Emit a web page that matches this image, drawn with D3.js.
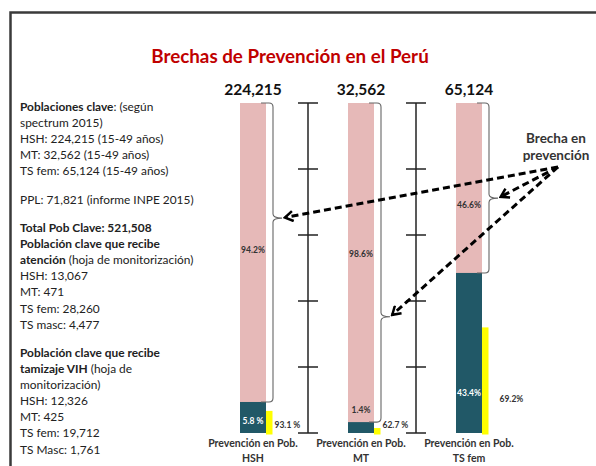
<!DOCTYPE html>
<html>
<head>
<meta charset="utf-8">
<script src="https://cdn.jsdelivr.net/npm/d3@7"></script>
<style>
  body { margin: 0; background: #fff; }
  svg { display: block; font-family: Lato, "Open Sans", sans-serif; }
</style>
</head>
<body>
<div id="chart"></div>
<script>
// Data
const categories = ["HSH", "MT", "TS fem"];
const catLabels = [["Prevención en Pob.", "HSH"], ["Prevención en Pob.", "MT"], ["Prevención en Pob.", "TS fem"]];
const population = ["224,215", "32,562", "65,124"];
// share of the bar (0-100) as drawn in the picture
const atencionShare = [9.4, 3.3, 48.5];
const tamizajeShare = [6.7, 1.5, 32];
const brechaLabels = ["94.2%", "98.6%", "46.6%"];
const atencionLabels = ["5.8 %", "1.4%", "43.4%"];
const tamizajeLabels = ["93.1 %", "62.7 %", "69.2%"];

const sideText = [
  [["Poblaciones clave", true], [": (según", false]],
  [["spectrum 2015)", false]],
  [["HSH: 224,215 (15-49 años)", false]],
  [["MT: 32,562 (15-49 años)", false]],
  [["TS fem: 65,124 (15-49 años)", false]],
  null,
  [["PPL: 71,821 (informe INPE 2015)", false]],
  null,
  [["Total Pob Clave: 521,508", true]],
  [["Población clave que recibe", true]],
  [["atención", true], [" (hoja de monitorización)", false]],
  [["HSH: 13,067", false]],
  [["MT: 471", false]],
  [["TS fem: 28,260", false]],
  [["TS masc: 4,477", false]],
  null,
  [["Población clave que recibe", true]],
  [["tamizaje VIH", true], [" (hoja de", false]],
  [["monitorización)", false]],
  [["HSH: 12,326", false]],
  [["MT: 425", false]],
  [["TS fem: 19,712", false]],
  [["TS Masc:  1,761", false]]
];

// Layout
const W = 596, H = 466;
const barW = 26, yellowW = 6.5;
const braceTip = [0.385, 0.67, 0.56];       // where the brace points, as part of the gap
const pinkLabelAt = [55.5, 54.2, 69];         // label heights in bar units
const tealLabelAt = [3.6, 7, 12.1];
const yellowLabelAt = [2.4, 2.4, 10.3];
const arrowFrom = [558, 167];

const svg = d3.select("#chart").append("svg")
    .attr("width", W)
    .attr("height", H);

// frame
svg.append("rect")
    .attr("x", 10.5).attr("y", 12.5)
    .attr("width", 620).attr("height", 480)
    .attr("fill", "none")
    .attr("stroke", "#3a3a3a")
    .attr("stroke-width", 2.5);

// title
svg.append("text")
    .attr("x", 290).attr("y", 63)
    .attr("text-anchor", "middle")
    .attr("fill", "#c00000")
    .attr("font-weight", "bold")
    .attr("font-size", 18.8)
    .text("Brechas de Prevención en el Perú");

// scales
const x = d3.scalePoint()
    .domain(categories)
    .range([253, 469]);

const y = d3.scaleLinear()
    .domain([0, 100])
    .range([433, 103]);

// pink (full population) bars
svg.selectAll(".pop")
    .data(categories)
    .enter().append("rect")
    .attr("x", d => x(d) - barW / 2)
    .attr("y", y(100))
    .attr("width", barW)
    .attr("height", y(0) - y(100))
    .attr("fill", "#e6b9b8");

// teal (atención) bars
svg.selectAll(".aten")
    .data(categories)
    .enter().append("rect")
    .attr("x", d => x(d) - barW / 2)
    .attr("y", (d, i) => y(atencionShare[i]))
    .attr("width", barW)
    .attr("height", (d, i) => y(0) - y(atencionShare[i]))
    .attr("fill", "#215867");

// yellow (tamizaje) bars
svg.selectAll(".tam")
    .data(categories)
    .enter().append("rect")
    .attr("x", d => x(d) + barW / 2)
    .attr("y", (d, i) => y(tamizajeShare[i]))
    .attr("width", yellowW)
    .attr("height", (d, i) => y(0) - y(tamizajeShare[i]) + 1.5)
    .attr("fill", "#ffff00");

// population totals on top
svg.selectAll(".popLabel")
    .data(categories)
    .enter().append("text")
    .attr("x", d => x(d))
    .attr("y", y(100) - 8)
    .attr("text-anchor", "middle")
    .attr("font-weight", "bold")
    .attr("font-size", 15.5)
    .attr("fill", "#111")
    .text((d, i) => population[i]);

// percentage labels
svg.selectAll(null)
    .data(categories)
    .enter().append("text")
    .attr("x", d => x(d))
    .attr("y", (d, i) => y(pinkLabelAt[i]))
    .attr("dy", "0.35em")
    .attr("text-anchor", "middle")
    .attr("font-weight", "bold")
    .attr("font-size", 8.5)
    .attr("fill", "#333")
    .text((d, i) => brechaLabels[i]);
svg.selectAll(null)
    .data(categories)
    .enter().append("text")
    .attr("x", d => x(d))
    .attr("y", (d, i) => y(tealLabelAt[i]))
    .attr("dy", "0.35em")
    .attr("text-anchor", "middle")
    .attr("font-weight", "bold")
    .attr("font-size", 8.5)
    .attr("fill", (d, i) => atencionShare[i] > 5 ? "#fff" : "#333")
    .text((d, i) => atencionLabels[i]);
svg.selectAll(null)
    .data(categories)
    .enter().append("text")
    .attr("x", (d, i) => x(d) + barW / 2 + yellowW + (tamizajeShare[i] > 20 ? 11 : 2))
    .attr("y", (d, i) => y(yellowLabelAt[i]))
    .attr("dy", "0.35em")
    .attr("font-weight", "bold")
    .attr("font-size", 8.5)
    .attr("fill", "#333")
    .text((d, i) => tamizajeLabels[i]);

// category labels
const cat = svg.selectAll(".cat")
    .data(categories)
    .enter().append("text")
    .attr("x", d => x(d))
    .attr("y", 447)
    .attr("text-anchor", "middle")
    .attr("font-weight", "bold")
    .attr("font-size", 10.5)
    .attr("fill", "#333");
cat.selectAll("tspan")
    .data((d, i) => catLabels[i])
    .enter().append("tspan")
    .attr("x", function () { return d3.select(this.parentNode).attr("x"); })
    .attr("dy", (d, j) => j ? 15 : 0)
    .text(d => d);

// scale rulers between bars
const rulerX = [(x(categories[0]) + x(categories[1])) / 2 + 1, (x(categories[1]) + x(categories[2])) / 2 + 1];
rulerX.forEach(rx => {
    const g = svg.append("g").attr("stroke", "#222").attr("stroke-width", 1.5);
    g.append("line")
        .attr("x1", rx).attr("x2", rx)
        .attr("y1", y(0)).attr("y2", y(100));
    g.selectAll("line.tick")
        .data(y.ticks(4))
        .enter().append("line")
        .attr("class", "tick")
        .attr("x1", rx - 10).attr("x2", rx + 10)
        .attr("y1", d => y(d)).attr("y2", d => y(d));
});

// braces marking the gap
const tips = [];
categories.forEach((d, i) => {
    const right = x(d) + barW / 2;
    const x0 = right - 5, xv = right + 7, r = 4, w = 9;
    const top = y(100), bot = y(atencionShare[i]);
    const tip = top + (bot - top) * braceTip[i];
    tips.push([xv + w, tip]);
    const p = d3.path();
    p.moveTo(x0, top);
    p.lineTo(xv - r, top);
    p.quadraticCurveTo(xv, top, xv, top + r);
    p.lineTo(xv, tip - r);
    p.quadraticCurveTo(xv, tip, xv + w, tip);
    p.quadraticCurveTo(xv, tip, xv, tip + r);
    p.lineTo(xv, bot - r);
    p.quadraticCurveTo(xv, bot, xv - r, bot);
    p.lineTo(x0, bot);
    svg.append("path")
        .attr("d", p.toString())
        .attr("fill", "none")
        .attr("stroke", "#666")
        .attr("stroke-width", 1.1);
});

// arrows
svg.append("defs").append("marker")
    .attr("id", "head")
    .attr("viewBox", "-10 -6 12 12")
    .attr("refX", 0).attr("refY", 0)
    .attr("markerWidth", 12).attr("markerHeight", 12)
    .attr("markerUnits", "userSpaceOnUse")
    .attr("orient", "auto")
    .append("path")
    .attr("d", "M-8,-5 L0,0 L-8,5")
    .attr("fill", "none")
    .attr("stroke", "#000")
    .attr("stroke-width", 2.5);

tips.forEach(t => {
    const ang = Math.atan2(t[1] - arrowFrom[1], t[0] - arrowFrom[0]);
    const ex = t[0] - 3 * Math.cos(ang), ey = t[1] - 3 * Math.sin(ang);
    svg.append("line")
        .attr("x1", arrowFrom[0]).attr("y1", arrowFrom[1])
        .attr("x2", ex).attr("y2", ey)
        .attr("stroke", "#000")
        .attr("stroke-width", 3)
        .attr("stroke-dasharray", "7,4")
        .attr("marker-end", "url(#head)");
});

svg.append("text")
    .attr("x", 556).attr("y", 143)
    .attr("text-anchor", "middle")
    .attr("font-weight", "bold")
    .attr("font-size", 13.5)
    .attr("fill", "#333")
    .selectAll("tspan")
    .data(["Brecha en", "prevención"])
    .enter().append("tspan")
    .attr("x", 556)
    .attr("dy", (d, i) => i ? 17 : 0)
    .text(d => d);

// left side notes
const notes = svg.append("text")
    .attr("font-size", 11.9)
    .attr("fill", "#222");
let ly = 111;
sideText.forEach(line => {
    if (line) {
        line.forEach((part, k) => {
            notes.append("tspan")
                .attr("x", k ? null : 20)
                .attr("y", k ? null : ly)
                .attr("font-weight", part[1] ? "bold" : "normal")
                .text(part[0]);
        });
        ly += 16.1;
    } else {
        ly += 12.2;
    }
});
</script>
</body>
</html>
